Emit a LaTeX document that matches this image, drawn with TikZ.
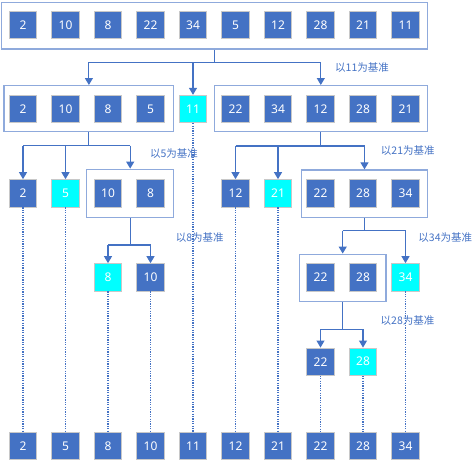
\documentclass[tikz,border=0pt]{standalone}
\usepackage{fontspec}
\setmainfont{Noto Sans}
\newfontfamily\cjk{Noto Sans CJK SC}
\usetikzlibrary{arrows.meta}
\definecolor{boxblue}{HTML}{4472C4}
\definecolor{boxgray}{HTML}{C8C8C8}
\definecolor{frameblue}{HTML}{8FAADC}
\definecolor{pivcyan}{HTML}{00FFFF}
\tikzset{
  num/.style={rectangle, fill=boxblue, draw=boxgray, line width=0.8pt,
    minimum size=27.5pt, inner sep=0pt, text=white, font=\fontsize{12}{14}\selectfont},
  pivot/.style={num, fill=pivcyan},
  grp/.style={rectangle, draw=frameblue, line width=1.4pt, inner sep=0pt},
  wire/.style={draw=boxblue, line width=1.1pt},
  link/.style={wire, -{Triangle[width=8pt,length=7pt]}},
  trail/.style={draw=boxblue, line width=1.1pt, dash pattern=on 1.2pt off 1.2pt},
  note/.style={text=boxblue, font=\cjk\fontsize{10.5}{12}\selectfont}
}

\begin{document}
\begin{tikzpicture}[x=1pt,y=-1pt]
        \useasboundingbox (0,0) rectangle (476,461);
        % whole array
        \node[grp, minimum width=425.6pt, minimum height=46.7pt] (F0) at (214.5,25.7) {};
        \foreach \v [count=\i] in {2,10,8,22,34,5,12,28,21,11}
            \node[num] (top\i) at ({23+42.5*(\i-1)},25) {\v};
        % first split
        \node[grp, minimum width=169.7pt, minimum height=46pt] (F1) at (88.9,108.7) {};
        \node[grp, minimum width=213pt, minimum height=46pt] (F2) at (320.8,108.7) {};
        \node[num] (b2) at (23,109) {2};
        \node[num] (b10) at (65.5,109) {10};
        \node[num] (b8) at (108,109) {8};
        \node[num] (b5) at (150.5,109) {5};
        \node[pivot] (p11) at (193,109) {11};
        \node[num] (b22) at (235.5,109) {22};
        \node[num] (b34) at (278,109) {34};
        \node[num] (b12) at (320.5,109) {12};
        \node[num] (b28) at (363,109) {28};
        \node[num] (b21) at (405.5,109) {21};
        \coordinate (k0) at (214.5,62.3);
        \draw[wire] (F0.south) -- (k0);
        \draw[wire] (F1.north |- k0) -- (F2.north |- k0);
        \draw[link] (F1.north |- k0) -- (F1.north);
        \draw[link] (p11.north |- k0) -- (p11.north);
        \draw[link] (F2.north |- k0) -- (F2.north);
        \node[note] at (362,67.7) {以11为基准};
        % left part
        \node[num] (l2) at (23,193.3) {2};
        \node[pivot] (p5) at (65.5,193.3) {5};
        \node[grp, minimum width=87pt, minimum height=48pt] (F3) at (130.2,193.3) {};
        \node[num] (c10) at (108,193.3) {10};
        \node[num] (c8) at (150.5,193.3) {8};
        \coordinate (k1) at (88.9,145.7);
        \draw[wire] (F1.south) -- (k1);
        \draw[wire] (l2.north |- k1) -- (F3.north |- k1);
        \draw[link] (l2.north |- k1) -- (l2.north);
        \draw[link] (p5.north |- k1) -- (p5.north);
        \draw[link] (F3.north |- k1) -- (F3.north);
        \node[note] at (174,153.3) {以5为基准};
        \node[pivot] (p8) at (108,277.3) {8};
        \node[num] (l10) at (150.5,277.3) {10};
        \coordinate (k2) at (130.2,245);
        \draw[wire] (F3.south) -- (k2);
        \draw[wire] (p8.north |- k2) -- (l10.north |- k2);
        \draw[link] (p8.north |- k2) -- (p8.north);
        \draw[link] (l10.north |- k2) -- (l10.north);
        \node[note] at (199.7,237.3) {以8为基准};
        % right part
        \node[num] (l12) at (235.5,193.3) {12};
        \node[pivot] (p21) at (278,193.3) {21};
        \node[grp, minimum width=125.6pt, minimum height=47.3pt] (F4) at (364.5,193.7) {};
        \node[num] (c22) at (320.5,193.3) {22};
        \node[num] (c28) at (363,193.3) {28};
        \node[num] (c34) at (405.5,193.3) {34};
        \coordinate (k3) at (320.8,146);
        \draw[wire] (F2.south) -- (k3);
        \draw[wire] (l12.north |- k3) -- (F4.north |- k3);
        \draw[link] (l12.north |- k3) -- (l12.north);
        \draw[link] (p21.north |- k3) -- (p21.north);
        \draw[link] (F4.north |- k3) -- (F4.north);
        \node[note] at (407.8,150.7) {以21为基准};
        \node[grp, minimum width=86.7pt, minimum height=47.4pt] (F5) at (342.7,278) {};
        \node[num] (d22) at (320.5,277.3) {22};
        \node[num] (d28) at (363,277.3) {28};
        \node[pivot] (p34) at (405.5,277.3) {34};
        \coordinate (k4) at (364.5,230.7);
        \draw[wire] (F4.south) -- (k4);
        \draw[wire] (F5.north |- k4) -- (p34.north |- k4);
        \draw[link] (F5.north |- k4) -- (F5.north);
        \draw[link] (p34.north |- k4) -- (p34.north);
        \node[note] at (445.3,237.3) {以34为基准};
        \node[num] (l22) at (320.5,361.7) {22};
        \node[pivot] (p28) at (363,361.7) {28};
        \coordinate (k5) at (342.7,329.3);
        \draw[wire] (F5.south) -- (k5);
        \draw[wire] (l22.north |- k5) -- (p28.north |- k5);
        \draw[link] (l22.north |- k5) -- (l22.north);
        \draw[link] (p28.north |- k5) -- (p28.north);
        \node[note] at (407.5,320.7) {以28为基准};
        % sorted result
        \foreach \v [count=\i] in {2,5,8,10,11,12,21,22,28,34}
            \node[num] (out\i) at ({23+42.5*(\i-1)},446) {\v};
        \foreach \leaf [count=\i] in {l2,p5,p8,l10,p11,l12,p21,l22,p28,p34}
            \draw[trail] (\leaf.south) -- (out\i.north);
    \end{tikzpicture}
\end{document}
